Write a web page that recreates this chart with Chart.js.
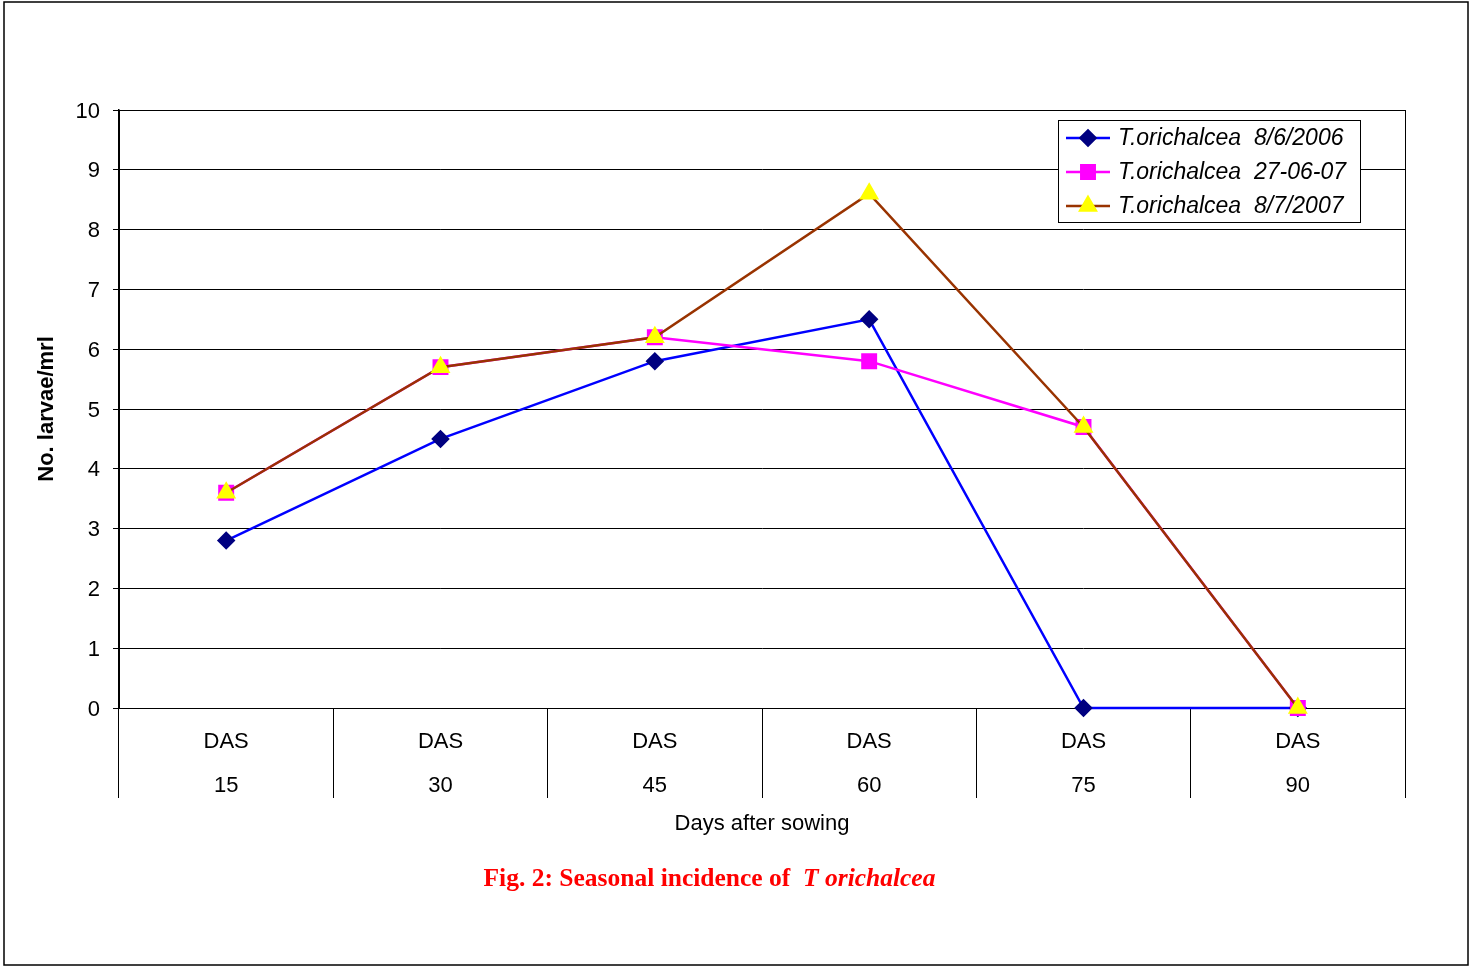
<!DOCTYPE html>
<html>
<head>
<meta charset="utf-8">
<script src="https://cdn.jsdelivr.net/npm/chart.js@4/dist/chart.umd.min.js"></script>
<style>
  body { margin: 0; background: #fff; }
  #wrap { position: relative; width: 1470px; height: 967px; }
  #caption {
    position: absolute; left: 0; top: 863px; width: 1419px; text-align: center;
    font-family: "Liberation Serif", "Times New Roman", serif; font-weight: bold;
    font-size: 25.5px; color: #ff0000;
  }
</style>
</head>
<body>
<div id="wrap">
  <canvas id="chart" width="1470" height="967"></canvas>
  <div id="caption">Fig. 2: Seasonal incidence of &nbsp;<i>T orichalcea</i></div>
</div>
<script>
const dasDays = ["15", "30", "45", "60", "75", "90"];
const yTicks = [0, 1, 2, 3, 4, 5, 6, 7, 8, 9, 10];
const seriesNames = ["T.orichalcea  8/6/2006", "T.orichalcea  27-06-07", "T.orichalcea  8/7/2007"];
const larvae2006 = [2.8, 4.5, 5.8, 6.5, 0, 0];
const larvae270607 = [3.6, 5.7, 6.2, 5.8, 4.7, 0];
const larvae2007 = [3.6, 5.7, 6.2, 8.6, 4.7, 0];

const sansFont = "'Liberation Sans', Arial, sans-serif";

// outer frame + plot box
const framePlugin = {
  id: "frame",
  beforeDatasetsDraw(chart) {
    const { ctx, chartArea: a } = chart;
    ctx.save();
    ctx.strokeStyle = "#000";
    ctx.lineWidth = 1;
    ctx.strokeRect(a.left + 0.5, a.top + 0.5, a.right - a.left, a.bottom - a.top);
    ctx.restore();
  },
  afterDraw(chart) {
    const ctx = chart.ctx;
    ctx.save();
    ctx.strokeStyle = "#000";
    ctx.lineWidth = 1.5;
    ctx.strokeRect(4, 2, 1464, 963);
    ctx.restore();
  }
};

// legend box drawn inside plot, like the original
const boxLegend = {
  id: "boxLegend",
  afterDraw(chart) {
    const ctx = chart.ctx;
    const x = 1058, y = 120, w = 302, h = 102;
    ctx.save();
    ctx.fillStyle = "#fff";
    ctx.fillRect(x, y, w, h);
    ctx.strokeStyle = "#000";
    ctx.lineWidth = 1;
    ctx.strokeRect(x + 0.5, y + 0.5, w, h);
    chart.data.datasets.forEach((ds, i) => {
      const cy = 138 + i * 34;
      ctx.strokeStyle = ds.borderColor;
      ctx.lineWidth = ds.borderWidth;
      ctx.beginPath();
      ctx.moveTo(1066, cy);
      ctx.lineTo(1110, cy);
      ctx.stroke();
      ctx.fillStyle = ds.pointBackgroundColor;
      ctx.strokeStyle = ds.pointBorderColor;
      Chart.helpers.drawPoint(ctx, {
        pointStyle: ds.pointStyle, radius: ds.pointRadius, rotation: 0, borderWidth: 1
      }, 1088, cy);
      ctx.fillStyle = "#000";
      ctx.font = "italic 23px " + sansFont;
      ctx.textBaseline = "middle";
      ctx.textAlign = "left";
      ctx.fillText(ds.label, 1118, cy + 1);
    });
    ctx.restore();
  }
};

const chart = new Chart(document.getElementById("chart"), {
  type: "line",
  data: {
    labels: dasDays.map(d => ["DAS", d]),
    datasets: [
      {
        label: seriesNames[0],
        data: larvae2006,
        borderColor: "#0000ff",
        borderWidth: 2.5,
        pointStyle: "rectRot",
        pointRadius: 7.5,
        pointBackgroundColor: "#000080",
        pointBorderColor: "#000080",
        order: 2,
        clip: false
      },
      {
        label: seriesNames[1],
        data: larvae270607,
        borderColor: "#ff00ff",
        borderWidth: 2.5,
        pointStyle: "rect",
        pointRadius: 9.5,
        pointBackgroundColor: "#ff00ff",
        pointBorderColor: "#ff00ff",
        order: 1,
        clip: false
      },
      {
        label: seriesNames[2],
        data: larvae2007,
        borderColor: "#993300",
        borderWidth: 2.5,
        pointStyle: "triangle",
        pointRadius: 9,
        pointBackgroundColor: "#ffff00",
        pointBorderColor: "#ffff00",
        order: 0,
        clip: false
      }
    ]
  },
  options: {
    responsive: false,
    animation: false,
    layout: { padding: { left: 0, top: 110, right: 65, bottom: 125 } },
    plugins: {
      legend: { display: false },
      tooltip: { enabled: false }
    },
    elements: { line: { tension: 0 } },
    scales: {
      x: {
        offset: true,
        grid: {
          offset: true,
          drawOnChartArea: false,
          drawTicks: true,
          tickLength: 90,
          color: "#000",
          lineWidth: 1
        },
        border: { color: "#000", width: 1 },
        ticks: {
          color: "#000",
          font: { family: sansFont, size: 22, lineHeight: 2.0 },
          padding: -78,
          maxRotation: 0
        },
        title: {
          display: true,
          text: "Days after sowing",
          color: "#000",
          font: { family: sansFont, size: 22 },
          padding: { top: 0, bottom: 5 }
        },
        afterFit(scale) { scale.height = 134; }
      },
      y: {
        min: 0,
        max: 10,
        afterBuildTicks(scale) { scale.ticks = yTicks.map(v => ({ value: v })); },
        grid: { color: "#000", lineWidth: 1, tickLength: 6 },
        border: { color: "#000", width: 1.5 },
        ticks: {
          color: "#000",
          font: { family: sansFont, size: 22 },
          padding: 13,
          labelOffset: 1.5
        },
        title: {
          display: true,
          text: "No. larvae/mrl",
          color: "#000",
          font: { family: sansFont, size: 22, weight: "bold" },
          padding: { top: 34, bottom: 0 }
        },
        afterFit(scale) { scale.width = 119; }
      }
    }
  },
  plugins: [framePlugin, boxLegend]
});
</script>
</body>
</html>
